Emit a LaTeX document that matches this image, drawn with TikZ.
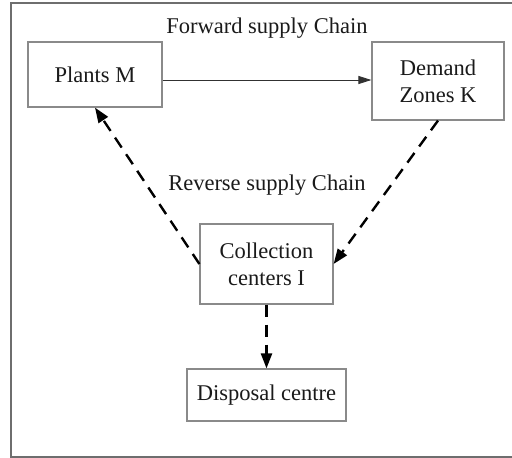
\documentclass[tikz,border=0pt]{standalone}
\usepackage{fontspec}
\setmainfont{Liberation Serif}
\usetikzlibrary{arrows.meta}
\definecolor{ink}{HTML}{1A1A1A}
\definecolor{edge}{HTML}{8A8A8A}
\tikzset{
  box/.style={draw=edge, line width=1.2pt, fill=white, minimum width=#1, inner sep=0pt, align=center, text=ink,
    font=\fontsize{22.5}{25}\selectfont},
  lbl/.style={text=ink, font=\fontsize{22.5}{25}\selectfont, inner sep=0pt},
  fwd/.style={draw=ink!90, line width=0.9pt, -{Triangle[length=13pt, width=8pt]}},
  rev/.style={draw=black, line width=2.4pt, dash pattern=on 12pt off 8pt,
    -{Triangle[length=15pt, width=11pt]}},
}
\begin{document}
\begin{tikzpicture}[x=1pt, y=-1pt]
  \useasboundingbox (0,0) rectangle (512,458);
  % outer frame (runs past the right edge)
  \draw[edge!80!black, line width=2pt] (530,3) -- (11,3) -- (11,457) -- (530,457);

  \node[box=134pt, minimum height=65pt] (plants) at (95,74.5) {Plants M};
  \node[box=132pt, minimum height=78pt] (dem) at (438,81) {Demand\\[2pt]Zones K};
  \node[box=133pt, minimum height=80pt] (coll) at (266.5,264) {Collection\\[2pt]centers I};
  \node[box=159pt, minimum height=52pt] (disp) at (266.5,395) {Disposal centre};

  \node[lbl] (fwdlbl) at (267,28) {Forward supply Chain};
  \node[lbl] (revlbl) at (267,185) {Reverse supply Chain};

  \draw[fwd] ([yshift=-5.5pt]plants.east) -- ([yshift=1pt]dem.west);
  \draw[rev] (coll.west) -- (plants.south);
  \draw[rev] (dem.south) -- (coll.east);
  \draw[rev] (coll.south) -- (disp.north);
\end{tikzpicture}
\end{document}
